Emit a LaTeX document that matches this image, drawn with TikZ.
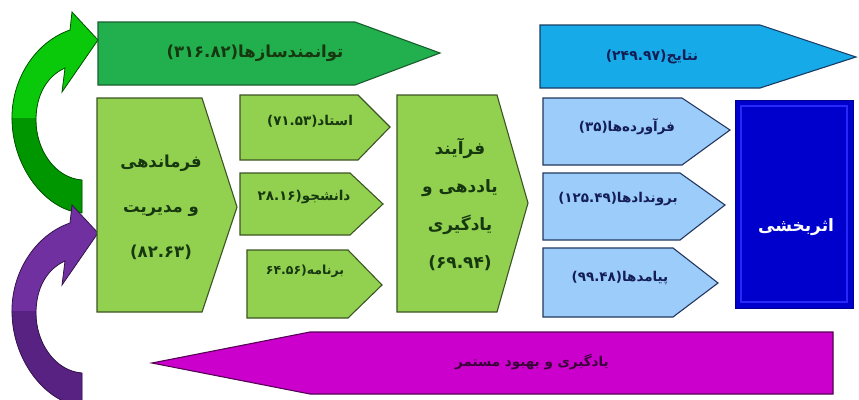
\documentclass[tikz,border=0pt]{standalone}
\usepackage{fontspec}
\newfontfamily\fa[Script=Arabic]{DejaVu Sans}
\TeXXeTstate=1
\definecolor{topgreen}{RGB}{34,176,78}
\definecolor{topgreenline}{RGB}{25,95,45}
\definecolor{lgreen}{RGB}{146,208,80}
\definecolor{lgreenline}{RGB}{60,85,35}
\definecolor{gtext}{RGB}{22,55,15}
\definecolor{topblue}{RGB}{22,170,232}
\definecolor{topblueline}{RGB}{25,60,100}
\definecolor{lblue}{RGB}{155,204,250}
\definecolor{lblueline}{RGB}{35,55,95}
\definecolor{btext}{RGB}{20,30,85}
\definecolor{dblue}{RGB}{0,0,205}
\definecolor{dblueinner}{RGB}{40,40,250}
\definecolor{magent}{RGB}{204,0,204}
\definecolor{magentline}{RGB}{85,0,85}
\definecolor{mtext}{RGB}{55,0,55}
\definecolor{cgreen}{RGB}{10,200,10}
\definecolor{cgreendark}{RGB}{0,150,0}
\definecolor{cgreenline}{RGB}{0,80,0}
\definecolor{cpurple}{RGB}{112,48,160}
\definecolor{cpurpledark}{RGB}{88,34,130}
\definecolor{cpurpleline}{RGB}{50,20,75}
\tikzset{
  curvedarrow/.style={insert path={(70,30) .. controls (35,42) and (11,80) .. (12,120) .. controls (13,170) and (48,211) .. (82,213) -- (82,180) .. controls (55,178) and (36,150) .. (36,120) .. controls (36,95) and (47,76) .. (65,68) -- (62,92) -- (98,40) -- (72,12) -- cycle}},
  gshape/.style={fill=lgreen, draw=lgreenline, line width=1.1pt, line join=miter},
  bshape/.style={fill=lblue, draw=lblueline, line width=1.1pt},
  gtxt/.style={text=gtext, font=\fa\bfseries\fontsize{13.5}{15}\selectfont, inner sep=0pt},
  btxt/.style={text=btext, font=\fa\bfseries\fontsize{13.5}{15}\selectfont, inner sep=0pt},
  bigtxt/.style={text=gtext, align=center, inner sep=0pt},
}
\begin{document}
\begin{tikzpicture}[x=1pt,y=-1pt]
\useasboundingbox[fill=white] (0,0) rectangle (859,399);

% curved arrows
\fill[cgreen, curvedarrow];
\begin{scope}
  \clip (0,118) rectangle (110,230);
  \fill[cgreendark, curvedarrow];
\end{scope}
\draw[cgreenline, line width=0.8pt, curvedarrow];
\begin{scope}[shift={(0,193)}]
  \fill[cpurple, curvedarrow];
  \begin{scope}
    \clip (0,118) rectangle (110,230);
    \fill[cpurpledark, curvedarrow];
  \end{scope}
  \draw[cpurpleline, line width=0.8pt, curvedarrow];
\end{scope}

% top arrows
\path[fill=topgreen, draw=topgreenline, line width=1.1pt] (98,22) -- (355,22) -- (440,53) -- (355,85) -- (98,85) -- cycle;
\node[text=gtext, font=\fa\bfseries\fontsize{16.5}{18}\selectfont] (tavan) at (255,53) {\beginR توانمندسازها(۳۱۶.۸۲)\endR};
\path[fill=topblue, draw=topblueline, line width=1.1pt] (540,25) -- (760,25) -- (856,57) -- (760,88) -- (540,88) -- cycle;
\node[text=btext, font=\fa\bfseries\fontsize{14}{16}\selectfont] (natayej) at (652,57) {\beginR نتایج(۲۴۹.۹۷)\endR};

% big green left
\path[gshape] (97,98) -- (202,98) -- (237,207) -- (202,312) -- (97,312) -- cycle;
\node[bigtxt, font=\fa\bfseries\fontsize{16.5}{45}\selectfont] (farman) at (161,207) {\beginR فرماندهی\endR\\\beginR و مدیریت\endR\\\beginR (۸۲.۶۳)\endR};

% three small green
\path[gshape] (240,95) -- (358,95) -- (390,127) -- (358,160) -- (240,160) -- cycle;
\node[gtxt] (ostad) at (310,121) {\beginR استاد(۷۱.۵۳)\endR};
\path[gshape] (240,173) -- (350,173) -- (383,204) -- (350,235) -- (240,235) -- cycle;
\node[gtxt] (daneshjoo) at (304,197) {\beginR دانشجو(۲۸.۱۶\endR};
\path[gshape] (247,250) -- (348,250) -- (382,285) -- (348,318) -- (247,318) -- cycle;
\node[gtxt, font=\fa\bfseries\fontsize{12.5}{14}\selectfont] (barnameh) at (305,271) {\beginR برنامه(۶۴.۵۶\endR};

% process
\path[gshape] (397,95) -- (497,95) -- (528,203) -- (497,312) -- (397,312) -- cycle;
\node[bigtxt, font=\fa\bfseries\fontsize{17}{38}\selectfont] (farayand) at (460,204) {\beginR فرآیند\endR\\\beginR یاددهی و\endR\\\beginR یادگیری\endR\\\beginR (۶۹.۹۴)\endR};

% three small blue
\path[bshape] (543,98) -- (682,98) -- (730,130) -- (682,165) -- (543,165) -- cycle;
\node[btxt] (faravardeh) at (627,127) {\beginR فرآورده‌ها(۳۵)\endR};
\path[bshape] (543,173) -- (680,173) -- (725,205) -- (680,240) -- (543,240) -- cycle;
\node[btxt] (borondad) at (618,199) {\beginR بروندادها(۱۲۵.۴۹)\endR};
\path[bshape] (543,248) -- (673,248) -- (718,283) -- (673,317) -- (543,317) -- cycle;
\node[btxt] (payamad) at (620,278) {\beginR پیامدها(۹۹.۴۸)\endR};

% effectiveness
\path[fill=dblue, draw=dblue!70!black, line width=1pt] (735,100) rectangle (853,308);
\path[draw=dblueinner, line width=1.2pt] (741,106) rectangle (847,302);
\node[text=white, font=\fa\bfseries\fontsize{17}{19}\selectfont] (asar) at (796,227) {\beginR اثربخشی\endR};

% magenta arrow
\path[fill=magent, draw=magentline, line width=1.1pt] (152,363) -- (310,332) -- (833,332) -- (833,394) -- (310,394) -- cycle;
\node[text=mtext, font=\fa\bfseries\fontsize{13.5}{16}\selectfont] (behbood) at (532,362) {\beginR یادگیری و بهبود مستمر\endR};
\end{tikzpicture}
\end{document}
